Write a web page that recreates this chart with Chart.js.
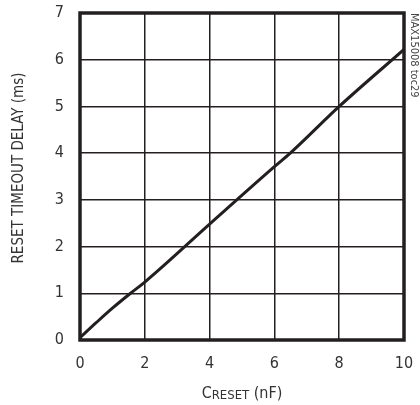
<!DOCTYPE html>
<html>
<head>
<meta charset="utf-8">
<script src="https://cdn.jsdelivr.net/npm/chart.js@4"></script>
<style>
    html, body { margin: 0; padding: 0; background: #fff; }
    #wrap { width: 420px; height: 405px; }
</style>
</head>
<body>
<div id="wrap"><canvas id="myChart" width="420" height="405"></canvas></div>
<script>
// C RESET (nF) vs delay (ms)
let creset = [0, 0.5, 1, 1.56, 2, 4, 6, 6.49, 8, 10];
let delay = [0.05, 0.37, 0.68, 1, 1.24, 2.48, 3.71, 4, 5, 6.22];

let xTicks = [0, 2, 4, 6, 8, 10];
let yTicks = [0, 1, 2, 3, 4, 5, 6, 7];

const fontFam = "'Liberation Sans Narrow', 'DejaVu Sans Condensed', 'Roboto', sans-serif";
const ink = '#231f20';

// marco, titulos y etiqueta lateral
const extras = {
    id: 'extras',
    afterDraw(chart) {
        const c = chart.ctx;
        const a = chart.chartArea;
        c.save();
        c.strokeStyle = ink;
        c.lineWidth = 3.5;
        c.strokeRect(a.left, a.top, a.right - a.left, a.bottom - a.top);

        c.fillStyle = '#333';
        // titulo eje y
        c.save();
        c.translate(19, 168);
        c.rotate(-Math.PI / 2);
        c.font = '15px ' + fontFam;
        c.textAlign = 'center';
        c.textBaseline = 'middle';
        c.fillText('RESET TIMEOUT DELAY (ms)', 0, 0);
        c.restore();

        // titulo eje x: C con RESET en subindice
        c.font = '16px ' + fontFam;
        const big = 'C';
        const wBig = c.measureText(big).width;
        c.font = '13px ' + fontFam;
        const sub = 'RESET';
        const wSub = c.measureText(sub).width;
        c.font = '16px ' + fontFam;
        const rest = ' (nF)';
        const wRest = c.measureText(rest).width;
        let x0 = 242 - (wBig + wSub + wRest) / 2;
        const yb = 398;
        c.textAlign = 'left';
        c.textBaseline = 'alphabetic';
        c.fillText(big, x0, yb);
        c.font = '13px ' + fontFam;
        c.fillText(sub, x0 + wBig, yb + 1);
        c.font = '16px ' + fontFam;
        c.fillText(rest, x0 + wBig + wSub, yb);

        // etiqueta lateral
        c.save();
        c.translate(414, 13);
        c.rotate(Math.PI / 2);
        c.font = '11px ' + fontFam;
        c.textAlign = 'left';
        c.textBaseline = 'middle';
        c.fillStyle = '#444';
        c.fillText('MAX15008 toc29', 0, 0);
        c.restore();
        c.restore();
    }
};

const ctx = document.getElementById('myChart');
const myChart = new Chart(ctx, {
    type: 'line',
    data: {
        datasets: [{
            data: creset.map((x, i) => ({ x: x, y: delay[i] })),
            borderColor: ink,
            borderWidth: 3,
            pointRadius: 0,
            cubicInterpolationMode: 'monotone',
            fill: false
        }]
    },
    options: {
        responsive: false,
        animation: false,
        layout: { padding: { top: 13, right: 16, left: 0, bottom: 0 } },
        plugins: {
            legend: { display: false },
            tooltip: { enabled: false }
        },
        scales: {
            x: {
                type: 'linear',
                min: 0,
                max: 10,
                afterBuildTicks: s => { s.ticks = xTicks.map(v => ({ value: v })); },
                afterFit: s => { s.height = 65; s.paddingLeft = 0; s.paddingRight = 0; },
                grid: { color: ink, lineWidth: 1.5, drawTicks: false },
                border: { display: false },
                ticks: {
                    padding: 14,
                    color: '#333',
                    font: { family: fontFam, size: 16 }
                }
            },
            y: {
                min: 0,
                max: 7,
                afterBuildTicks: s => { s.ticks = yTicks.map(v => ({ value: v })); },
                afterFit: s => { s.width = 80; s.paddingTop = 0; s.paddingBottom = 0; },
                grid: { color: ink, lineWidth: 1.5, drawTicks: false },
                border: { display: false },
                ticks: {
                    padding: 16,
                    color: '#333',
                    font: { family: fontFam, size: 16 }
                }
            }
        }
    },
    plugins: [extras]
});
</script>
</body>
</html>
